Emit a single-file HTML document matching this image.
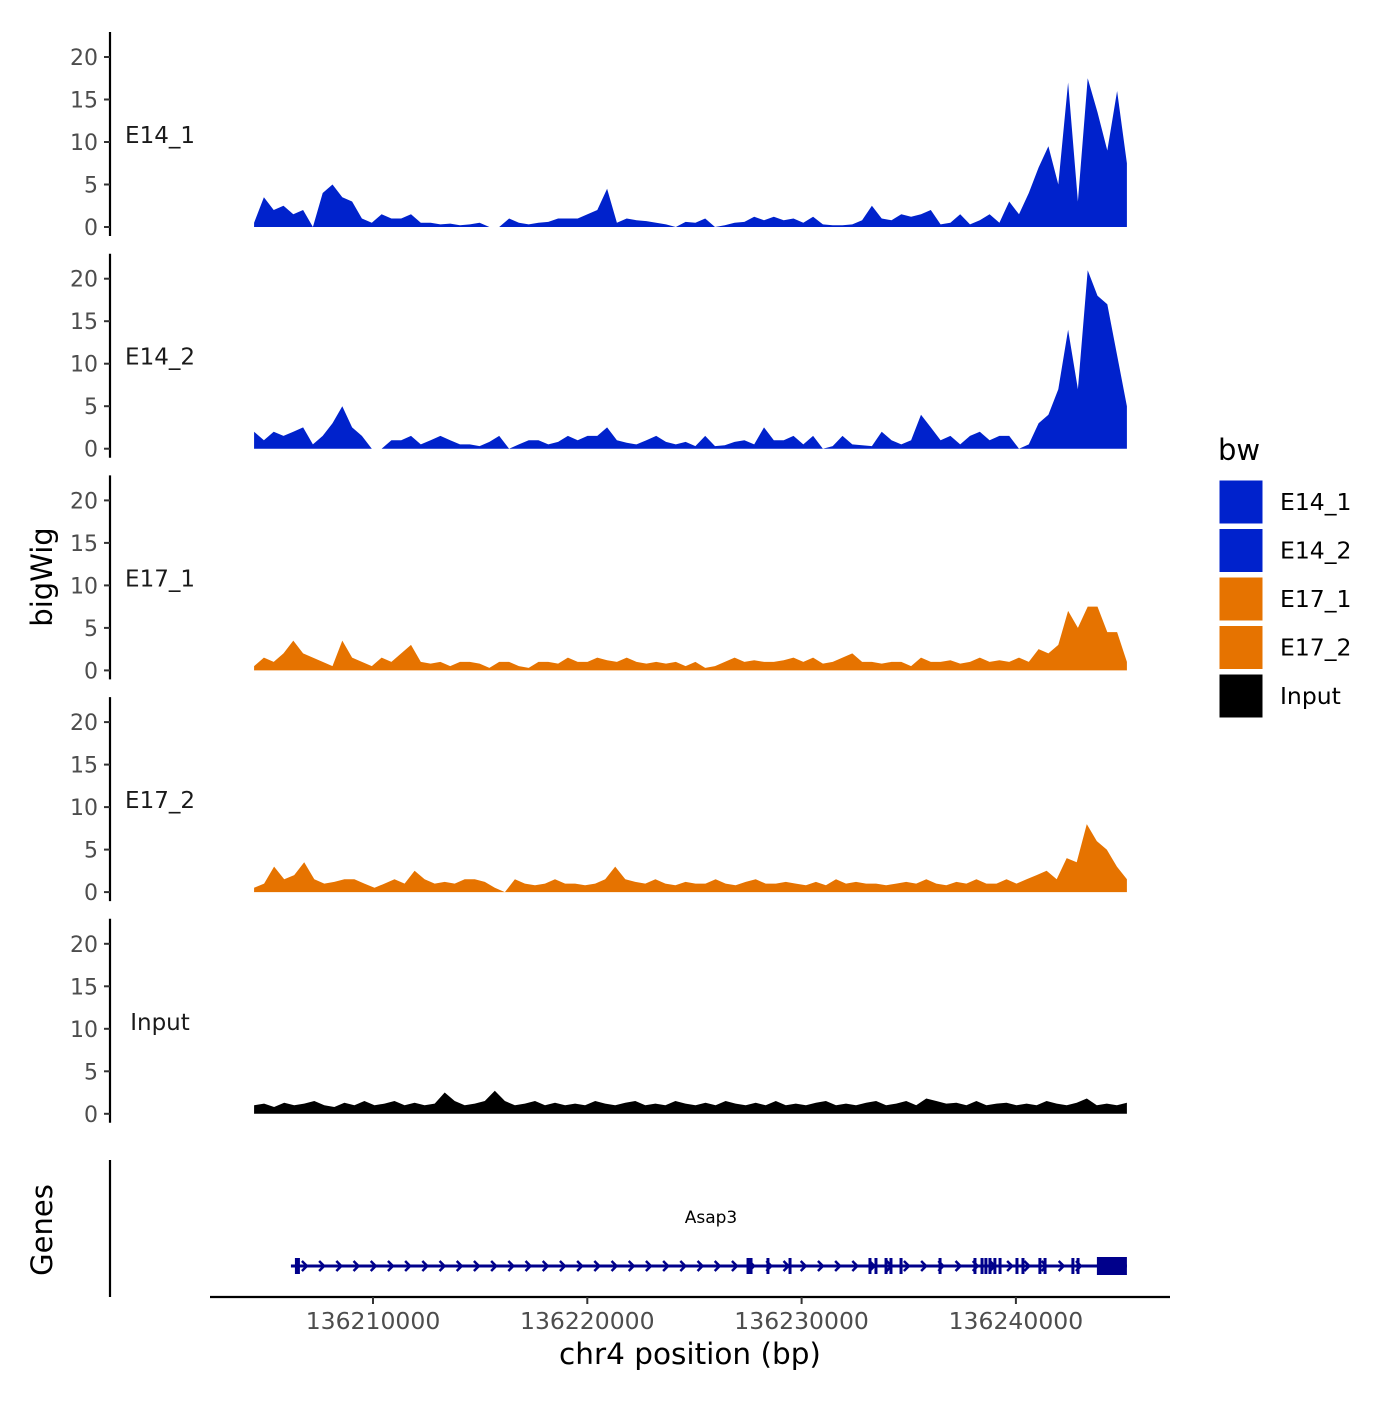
<!DOCTYPE html>
<html><head><meta charset="utf-8"><style>
body{margin:0;background:#fff}
svg text{font-family:"DejaVu Sans","Liberation Sans",sans-serif}
</style></head><body>
<svg id="c" width="1400" height="1400" xmlns="http://www.w3.org/2000/svg"></svg>
<script>
const trackNames=["E14_1","E14_2","E17_1","E17_2","Input"];
const trackColors=["#0022CC","#0022CC","#E67300","#E67300","#000000"];
const yTicks=[0,5,10,15,20];
const xTicks=[136210000,136220000,136230000,136240000];
const xStart=136204450, xEnd=136245180;
const e14_1=[0.5,3.5,2,2.5,1.5,2,0,4,5,3.5,3,1,0.5,1.5,1,1,1.5,0.5,0.5,0.3,0.4,0.2,0.3,0.5,0,0,1,0.5,0.3,0.5,0.6,1,1,1,1.5,2,4.5,0.5,1,0.8,0.7,0.5,0.3,0,0.6,0.5,1,0,0.2,0.5,0.6,1.2,0.8,1.2,0.8,1,0.5,1.2,0.3,0.2,0.2,0.3,0.8,2.5,1,0.8,1.5,1.2,1.5,2,0.3,0.5,1.5,0.3,0.8,1.5,0.5,3,1.5,4,7,9.5,5,17,3,17.5,13.5,9,16,7.5];
const e14_2=[2,1,2,1.5,2,2.5,0.5,1.5,3,5,2.5,1.5,0,0,1,1,1.5,0.5,1,1.5,1,0.5,0.5,0.3,0.8,1.5,0,0.5,1,1,0.5,0.8,1.5,1,1.5,1.5,2.5,1,0.7,0.5,1,1.5,0.8,0.5,0.8,0.3,1.5,0.3,0.4,0.8,1,0.5,2.5,1,1,1.5,0.5,1.5,0,0.3,1.5,0.5,0.4,0.3,2,1,0.5,1,4,2.5,1,1.5,0.5,1.5,2,1,1.5,1.5,0,0.5,3,4,7,14,7,21,18,17,11,5];
const e17_1=[0.5,1.5,1,2,3.5,2,1.5,1,0.5,3.5,1.5,1,0.5,1.5,1,2,3,1,0.8,1,0.5,1,1,0.8,0.3,1,1,0.5,0.3,1,1,0.8,1.5,1,1,1.5,1.2,1,1.5,1,0.8,1,0.8,1,0.5,1,0.3,0.5,1,1.5,1,1.2,1,1,1.2,1.5,1,1.5,0.8,1,1.5,2,1,1,0.8,1,1,0.5,1.5,1,1,1.2,0.8,1,1.5,1,1.2,1,1.5,1,2.5,2,3,7,5,7.5,7.5,4.5,4.5,1];
const e17_2=[0.5,1,3,1.5,2,3.5,1.5,1,1.2,1.5,1.5,1,0.5,1,1.5,1,2.5,1.5,1,1.2,1,1.5,1.5,1.2,0.5,0,1.5,1,0.8,1,1.5,1,1,0.8,1,1.5,3,1.5,1.2,1,1.5,1,0.8,1.2,1,1,1.5,1,0.8,1.2,1.5,1,1,1.2,1,0.8,1.2,0.8,1.5,1,1.2,1,1,0.8,1,1.2,1,1.5,1,0.8,1.2,1,1.5,1,1,1.5,1,1.5,2,2.5,1.5,4,3.5,8,6,5,3,1.5];
const input=[1,1.2,0.8,1.3,1,1.2,1.5,1,0.8,1.3,1,1.5,1,1.2,1.5,1,1.3,1,1.2,2.5,1.5,1,1.2,1.5,2.7,1.5,1,1.2,1.5,1,1.3,1,1.2,1,1.5,1.2,1,1.3,1.5,1,1.2,1,1.5,1.2,1,1.3,1,1.5,1.2,1,1.3,1,1.5,1,1.2,1,1.3,1.5,1,1.2,1,1.3,1.5,1,1.2,1.5,1,1.8,1.5,1.2,1.3,1,1.5,1,1.2,1.3,1,1.2,1,1.5,1.2,1,1.3,1.8,1,1.2,1,1.3];
const series=[e14_1,e14_2,e17_1,e17_2,input];
const geneStart=136206170, geneEnd=136245180;
const exonPos=[136206500,136227500,136227640,136228430,136229460,136233190,136233470,136233940,136234170,136234640,136236460,136238090,136238420,136238600,136238790,136239020,136239260,136240050,136240330,136241120,136241360,136242660,136242900];
const utrStart=136243780, utrEnd=136245180;
const legendKeys=["E14_1","E14_2","E17_1","E17_2","Input"];
const legendColors=["#0022CC","#0022CC","#E67300","#E67300","#000000"];

const svg=document.getElementById('c');
const NS="http://www.w3.org/2000/svg";
function mk(tag,attrs,parent){const e=document.createElementNS(NS,tag);for(const k in attrs)e.setAttribute(k,attrs[k]);(parent||svg).appendChild(e);return e;}
const xPx=v=>373+(v-136210000)/1000*21.43;
const panelTop=i=>32+221.7*i;
const yPx=(i,v)=>panelTop(i)+195-v*8.5;

for(let i=0;i<5;i++){
  const g=mk('g',{});
  
  
  const ax=mk('line',{x1:110,x2:110,y1:panelTop(i),y2:panelTop(i)+204,stroke:'#000','stroke-width':2.2},g);
  
  for(const t of yTicks){
    const y=yPx(i,t);
    const tk=mk('line',{x1:104,x2:110,y1:y,y2:y,stroke:'#333','stroke-width':2},g);
    
    const tl=mk('text',{x:98,y:y+8,'text-anchor':'end','font-size':22,fill:'#4d4d4d'},g);
    tl.textContent=t;
  }
  const lab=mk('text',{x:160,y:panelTop(i)+111,'text-anchor':'middle','font-size':23,fill:'#1a1a1a'},g);
  lab.textContent=trackNames[i];
  const vals=series[i];const n=vals.length;const step=(xEnd-xStart)/(n-1);
  let d='M'+xPx(xStart)+','+yPx(i,0);
  vals.forEach((v,k)=>{d+=' L'+xPx(xStart+k*step).toFixed(1)+','+yPx(i,v).toFixed(1);});
  d+=' L'+xPx(xEnd)+','+yPx(i,0)+' Z';
  const ar=mk('path',{d:d,fill:trackColors[i]},g);
  
}
const yt=mk('text',{x:0,y:0,transform:'translate(52,577) rotate(-90)','text-anchor':'middle','font-size':29,fill:'#000'});
yt.textContent='bigWig';

const gl=mk('line',{x1:110,x2:110,y1:1160,y2:1297,stroke:'#000','stroke-width':2.2});

const gt=mk('text',{x:0,y:0,transform:'translate(52,1230) rotate(-90)','text-anchor':'middle','font-size':29,fill:'#000'});
gt.textContent='Genes';
const gg=mk('g',{});

const gy=1266;
mk('line',{x1:xPx(geneStart),x2:xPx(geneEnd),y1:gy,y2:gy,stroke:'#00008B','stroke-width':3},gg);
for(let x=xPx(geneStart)+14;x<xPx(utrStart)-4;x+=17.2){
  mk('path',{d:`M${x-3},${gy-5} L${x+2},${gy} L${x-3},${gy+5}`,stroke:'#00008B','stroke-width':2.5,fill:'none'},gg);
}
exonPos.forEach(p=>{mk('rect',{x:xPx(p)-1.5,y:gy-8,width:3,height:16,fill:'#00008B'},gg);});
mk('rect',{x:xPx(geneStart)+4,y:gy-8,width:5,height:16,fill:'#00008B'},gg);
mk('rect',{x:xPx(utrStart),y:gy-9,width:xPx(utrEnd)-xPx(utrStart),height:18,fill:'#00008B'},gg);
const gn=mk('text',{x:711,y:1223,'text-anchor':'middle','font-size':17,fill:'#000'});
gn.textContent='Asap3';

const xa=mk('line',{x1:210,x2:1170,y1:1297,y2:1297,stroke:'#000','stroke-width':2.2});

xTicks.forEach(t=>{
  const x=xPx(t);
  const tk=mk('line',{x1:x,x2:x,y1:1297,y2:1304,stroke:'#333','stroke-width':2});
  
  const tl=mk('text',{x:x,y:1329,'text-anchor':'middle','font-size':23.5,fill:'#4d4d4d'});
  tl.textContent=t;
});
const xt=mk('text',{x:690,y:1364,'text-anchor':'middle','font-size':29.5,fill:'#000'});
xt.textContent='chr4 position (bp)';

const lg=mk('g',{});

const lt=mk('text',{x:1218,y:460,'font-size':29,fill:'#000'},lg);
lt.textContent='bw';
legendKeys.forEach((k,j)=>{
  const y=480+j*48.5;
  const r=mk('rect',{x:1219,y:y,width:44,height:44,fill:legendColors[j],stroke:'#fff','stroke-width':1},lg);
  
  const t=mk('text',{x:1280,y:y+30,'font-size':23.5,fill:'#000'},lg);
  t.textContent=k;
});
</script>
</body></html>
